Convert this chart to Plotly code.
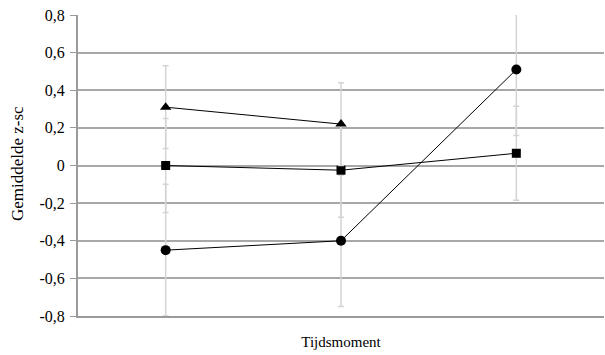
import plotly.graph_objects as go

categories = ["1", "2", "3"]
circle_vals = [-0.45, -0.40, 0.51]
circle_err = [0.35, 0.35, 0.35]
square_vals = [0.0, -0.025, 0.065]
square_err = [0.25, 0.25, 0.25]
triangle_vals = [0.31, 0.22, None]
triangle_err = [0.22, 0.22, 0.22]

ytick_vals = [-0.8, -0.6, -0.4, -0.2, 0, 0.2, 0.4, 0.6, 0.8]
ytick_text = ["-0,8", "-0,6", "-0,4", "-0,2", "0", "0,2", "0,4", "0,6", "0,8"]

SERIF = "Liberation Serif, Times New Roman, Times, serif"

fig = go.Figure()

def add_series(vals, err, symbol, size):
    fig.add_trace(go.Scatter(
        x=categories, y=vals, mode="lines+markers",
        line=dict(color="black", width=1),
        marker=dict(symbol=symbol, size=size, color="black"),
        error_y=dict(type="data", array=err, visible=True,
                     color="#d4d4d4", thickness=1.5, width=3),
        cliponaxis=False, showlegend=False, connectgaps=False,
    ))

add_series(circle_vals, circle_err, "circle", 10)
add_series(square_vals, square_err, "square", 9)
add_series(triangle_vals, triangle_err, "triangle-up", 10)

fig.update_layout(
    width=605, height=355,
    margin=dict(l=78, r=1, t=15, b=39),
    paper_bgcolor="white", plot_bgcolor="white",
    font=dict(family=SERIF, size=16, color="black"),
    xaxis=dict(
        type="category", range=[-0.5, 2.5],
        showticklabels=False, ticks="", showgrid=False,
        showline=True, linecolor="#9a9a9a", linewidth=2,
        zeroline=False,
        title=dict(text="Tijdsmoment", font=dict(family=SERIF, size=15), standoff=19),
    ),
    yaxis=dict(
        range=[-0.8, 0.8], tickvals=ytick_vals, ticktext=ytick_text,
        showgrid=True, gridcolor="#a8a8a8", gridwidth=1.5,
        zeroline=False,
        showline=True, linecolor="#9a9a9a", linewidth=2,
        ticks="outside", ticklen=6, tickcolor="#9a9a9a",
        ticklabelstandoff=2,
        tickfont=dict(family=SERIF, size=16),
    ),
    annotations=[dict(
        text="Gemiddelde z-sc", textangle=-90,
        xref="paper", yref="paper", x=-0.114, y=0.505,
        showarrow=False, font=dict(family=SERIF, size=17),
        xanchor="center", yanchor="middle",
    )],
)

fig.write_html(
    "out.html",
    config={"displayModeBar": False},
    post_script="document.body.style.margin='0px';document.body.style.overflow='hidden';",
)
